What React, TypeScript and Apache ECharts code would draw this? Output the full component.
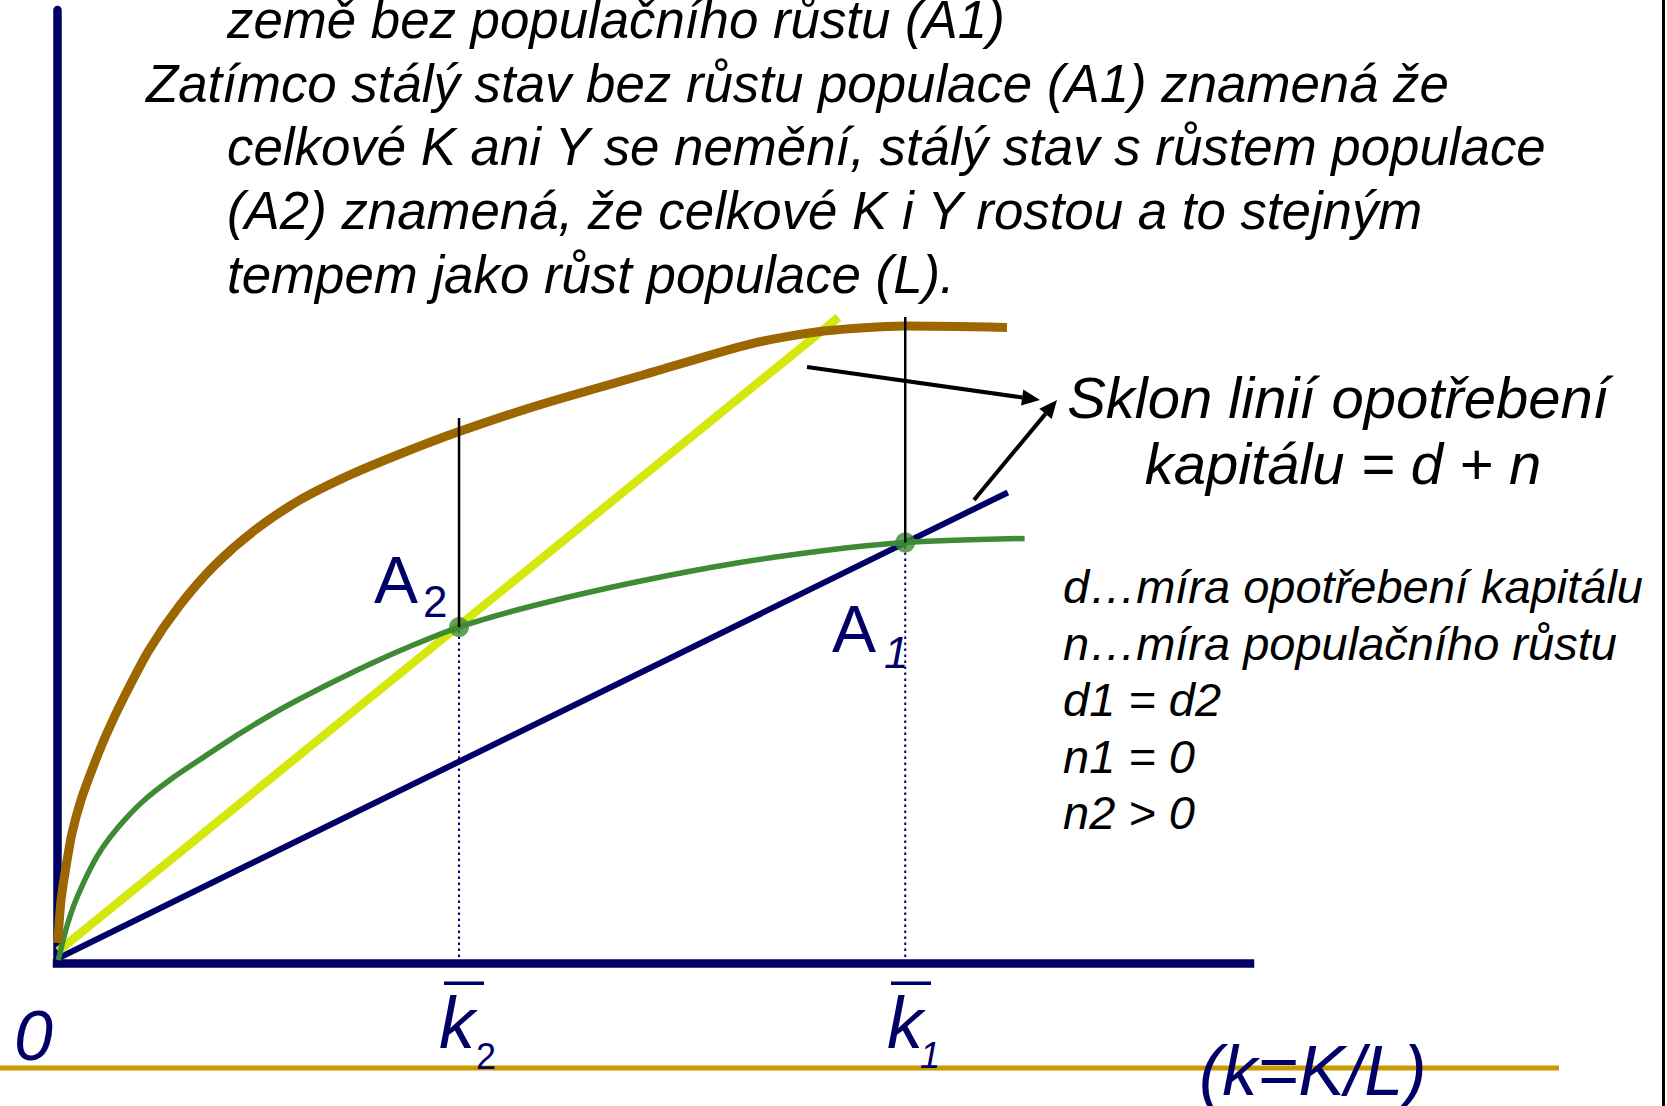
import React, { useEffect, useRef } from "react";
import * as echarts from "echarts";

// Capital per worker (k) and the curves of the Solow diagram
// Output per worker y = f(k)
const kOutput = [0.06, 0.34, 0.75, 1.26, 2.01, 3.02, 4.19, 5.62, 7.71, 10.31, 13.24, 16.6, 20.37, 24.56, 28.75, 33.36, 40.15, 48.53, 58.09, 64.29, 71.08, 79.63];
const yOutput = [1.68, 5.29, 8.06, 10.91, 13.68, 16.45, 19.31, 22.33, 26.27, 30.05, 33.41, 36.35, 38.87, 40.97, 42.73, 44.49, 46.76, 49.19, 51.96, 53.05, 53.47, 53.35];

// Investment per worker s·f(k)
const kInvest = [0.11, 0.67, 1.37, 2.2, 3.33, 4.44, 5.84, 7.52, 9.75, 11.99, 15.34, 18.78, 22.46, 26.07, 29.76, 33.7, 40.15, 48.53, 56.99, 65.38, 71.1, 81.11];
const yInvest = [0.25, 2.52, 4.73, 6.69, 8.9, 10.54, 12.21, 13.85, 15.57, 17.08, 19.27, 21.32, 23.25, 25.02, 26.65, 28.2, 30.05, 31.98, 33.58, 34.75, 35.3, 35.64];

// Break-even lines: d·k (n1 = 0) and (d + n)·k (n2 > 0)
const kDep = [0.1, 79.7];
const yDep = [0.4, 39.5];
const kDepN = [0.1, 65.5];
const yDepN = [1.0, 54.2];

// Steady states A2 (k̄2) and A1 (k̄1)
const kSteady = [33.7, 71.1];
const ySteady = [28.2, 35.3];
const yGuideTop = [45.75, 54.23];

const NAVY = "#000066";
const FONT = "'Liberation Sans', Arial, sans-serif";

const paragraph = [
  { t: "země bez populačního růstu (A1)", x: 227, b: 38 },
  { t: "Zatímco stálý stav bez růstu populace (A1) znamená že", x: 146, b: 102 },
  { t: "celkové K ani Y se nemění, stálý stav s růstem populace", x: 227, b: 165 },
  { t: "(A2) znamená, že celkové K i Y rostou a to stejným", x: 227, b: 229 },
  { t: "tempem jako růst populace (L).", x: 227, b: 293 },
];

const notes = [
  "d…míra opotřebení kapitálu",
  "n…míra populačního růstu",
  "d1 = d2",
  "n1 = 0",
  "n2 > 0",
];

function txt(
  text: string,
  x: number,
  base: number,
  size: number,
  color: string,
  italic: boolean,
  align: string = "left"
) {
  return {
    type: "text",
    x,
    y: base - 0.35 * size,
    z: 20,
    style: {
      text,
      fill: color,
      font: `${italic ? "italic " : ""}${size}px ${FONT}`,
      align,
      verticalAlign: "middle",
    },
  };
}

function zip(a: number[], b: number[]) {
  return a.map((v, i) => [v, b[i]]);
}

export default function App() {
  const ref = useRef<HTMLDivElement>(null);

  useEffect(() => {
    if (!ref.current) return;
    const chart = echarts.init(ref.current, undefined, { renderer: "svg" });

    const graphic: any[] = [];
    paragraph.forEach((p) => graphic.push(txt(p.t, p.x, p.b, 52.8, "#000", true)));
    graphic.push(txt("Sklon linií opotřebení", 1338, 418, 58, "#000", true, "center"));
    graphic.push(txt("kapitálu = d + n", 1343, 484, 58, "#000", true, "center"));
    notes.forEach((n, i) => graphic.push(txt(n, 1063, 603 + i * 56.5, 47, "#000", true)));

    graphic.push(txt("A", 374, 603, 66, NAVY, false));
    graphic.push(txt("2", 423, 617, 44, NAVY, false));
    graphic.push(txt("A", 832, 652, 66, NAVY, false));
    graphic.push(txt("1", 884, 668, 44, NAVY, true));
    graphic.push(txt("0", 14, 1060, 70, NAVY, true));

    graphic.push(txt("k", 439, 1048, 72, NAVY, true));
    graphic.push(txt("2", 476, 1069, 36, NAVY, false));
    graphic.push({ type: "rect", z: 20, shape: { x: 444, y: 981.5, width: 40, height: 3.5 }, style: { fill: NAVY } });
    graphic.push(txt("k", 887, 1048, 72, NAVY, true));
    graphic.push(txt("1", 920, 1068, 36, NAVY, true));
    graphic.push({ type: "rect", z: 20, shape: { x: 891, y: 981.5, width: 40, height: 3.5 }, style: { fill: NAVY } });

    graphic.push({
      type: "line",
      z: 5,
      shape: { x1: 0, y1: 1068, x2: 1559, y2: 1068 },
      style: { stroke: "#CC9900", lineWidth: 5 },
    });
    graphic.push(txt("(k=K/L)", 1199, 1095, 70, NAVY, true));
    graphic.push({
      type: "line",
      z: 5,
      shape: { x1: 1663.5, y1: 0, x2: 1663.5, y2: 1106 },
      style: { stroke: "#000", lineWidth: 3 },
    });

    // Arrows pointing at the slope caption
    const arrow = (x1: number, y1: number, x2: number, y2: number) => {
      const dx = x2 - x1;
      const dy = y2 - y1;
      const len = Math.hypot(dx, dy);
      const ux = dx / len;
      const uy = dy / len;
      const bx = x2 - 18 * ux;
      const by = y2 - 18 * uy;
      const nx = -uy;
      const ny = ux;
      graphic.push({
        type: "line",
        z: 15,
        shape: { x1, y1, x2: bx, y2: by },
        style: { stroke: "#000", lineWidth: 4 },
      });
      graphic.push({
        type: "polygon",
        z: 15,
        shape: {
          points: [
            [x2, y2],
            [bx + 8 * nx, by + 8 * ny],
            [bx - 8 * nx, by - 8 * ny],
          ],
        },
        style: { fill: "#000" },
      });
    };
    arrow(807, 367, 1040, 400);
    arrow(974, 500, 1057, 400);

    chart.setOption({
      animation: false,
      backgroundColor: "#fff",
      grid: { left: 57, top: 10, width: 1193, height: 953, containLabel: false },
      xAxis: {
        type: "value",
        min: 0,
        max: 100,
        axisLine: { show: true, lineStyle: { color: NAVY, width: 8.5, cap: "square" } },
        axisTick: { show: false },
        axisLabel: { show: false },
        splitLine: { show: false },
      },
      yAxis: {
        type: "value",
        min: 0,
        max: 80,
        axisLine: { show: true, lineStyle: { color: NAVY, width: 8.5 } },
        axisTick: { show: false },
        axisLabel: { show: false },
        splitLine: { show: false },
      },
      graphic,
      series: [
        {
          type: "line",
          data: zip(kDep, yDep),
          symbol: "none",
          lineStyle: { color: NAVY, width: 6 },
          z: 2,
        },
        {
          type: "line",
          data: zip(kDepN, yDepN),
          symbol: "none",
          lineStyle: { color: "#D5E80E", width: 8.5 },
          z: 3,
        },
        {
          type: "line",
          data: zip(kInvest, yInvest),
          symbol: "none",
          smooth: 0.25,
          lineStyle: { color: "#3F8A35", width: 5.5 },
          z: 4,
        },
        {
          type: "line",
          data: zip(kOutput, yOutput),
          symbol: "none",
          smooth: 0.25,
          lineStyle: { color: "#9C6600", width: 9 },
          z: 5,
        },
        {
          type: "scatter",
          data: zip(kSteady, ySteady),
          symbol: "circle",
          symbolSize: 20,
          itemStyle: { color: "#3F8A35" },
          z: 6,
        },
        ...kSteady.map((k, i) => ({
          type: "line",
          data: [
            [k, 0],
            [k, ySteady[i]],
          ],
          symbol: "none",
          lineStyle: { color: NAVY, width: 2, type: [2.5, 3.5] },
          z: 6,
        })),
        ...kSteady.map((k, i) => ({
          type: "line",
          data: [
            [k, ySteady[i]],
            [k, yGuideTop[i]],
          ],
          symbol: "none",
          lineStyle: { color: "#000", width: 2.5 },
          z: 7,
        })),
      ],
    });

    return () => chart.dispose();
  }, []);

  return (
    <div
      ref={ref}
      style={{ position: "fixed", left: 0, top: 0, width: 1667, height: 1106, background: "#fff" }}
    />
  );
}
